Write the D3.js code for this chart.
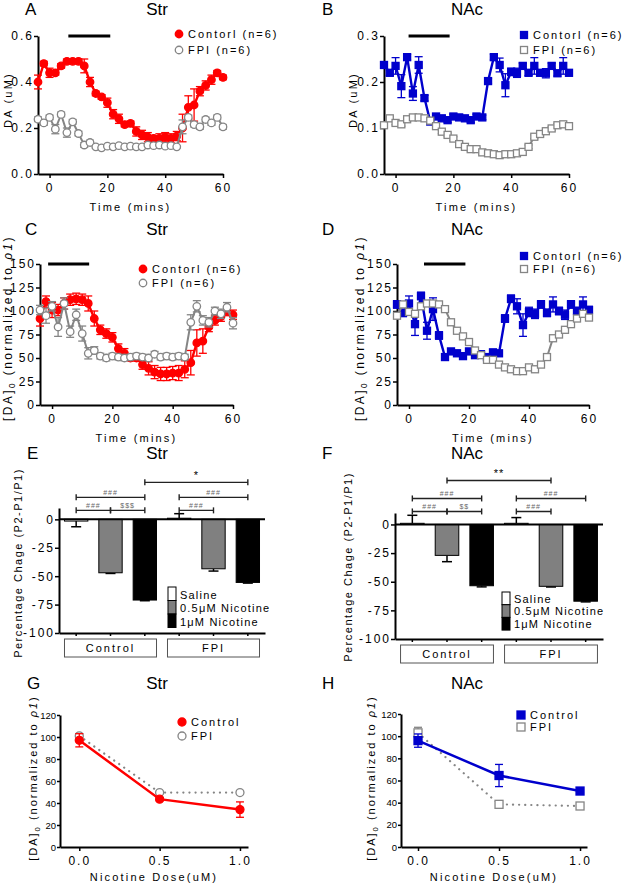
<!DOCTYPE html>
<html>
<head>
<meta charset="utf-8">
<script src="https://cdn.jsdelivr.net/npm/d3@7"></script>
<style>
body { margin: 0; background: #fff; }
svg { display: block; font-family: "Liberation Sans", Arial, sans-serif; }
</style>
</head>
<body>
<svg id="fig" width="625" height="883"></svg>
<script>
// ---- data ----
const times = [-4, -2, 0, 2, 4, 6, 8, 10, 12, 14, 16, 18, 20, 22, 24, 26, 28, 30, 32, 34, 36, 38, 40, 42, 44, 46, 48, 50, 52, 54, 56, 58, 60];

// A: Str raw DA (uM)
const strCtrlDA = [0.40, 0.48, 0.44, 0.44, 0.47, 0.49, 0.49, 0.49, 0.47, 0.40, 0.35, 0.335, 0.31, 0.26, 0.24, 0.215, 0.22, 0.185, 0.17, 0.16, 0.155, 0.155, 0.16, 0.155, 0.165, 0.20, 0.29, 0.30, 0.36, 0.385, 0.41, 0.44, 0.42];
const strCtrlDAErr = [0.03, 0.01, 0.02, 0.01, 0.01, 0.01, 0.01, 0.01, 0.03, 0.02, 0.01, 0.01, 0.02, 0.02, 0.02, 0.01, 0.01, 0.02, 0.02, 0.02, 0.01, 0.02, 0.02, 0.02, 0.02, 0.06, 0.05, 0.07, 0.02, 0.02, 0.02, 0.01, 0.01];
const strFpiDA = [0.238, 0.222, 0.246, 0.195, 0.259, 0.18, 0.227, 0.176, 0.126, 0.137, 0.118, 0.114, 0.121, 0.118, 0.123, 0.118, 0.121, 0.118, 0.118, 0.126, 0.123, 0.126, 0.121, 0.123, 0.118, 0.205, 0.246, 0.215, 0.205, 0.237, 0.222, 0.246, 0.205];
const strFpiDAErr = [0.01, 0.01, 0.01, 0.02, 0.01, 0.02, 0.01, 0.01, 0.01, 0.01, 0.005, 0.005, 0.005, 0.005, 0.005, 0.005, 0.005, 0.005, 0.005, 0.005, 0.005, 0.005, 0.005, 0.005, 0.005, 0.03, 0.01, 0.01, 0.01, 0.01, 0.01, 0.01, 0.01];

// B: NAc raw DA (uM)
const nacCtrlDA = [0.237, 0.220, 0.235, 0.191, 0.254, 0.175, 0.237, 0.165, 0.114, 0.125, 0.121, 0.117, 0.125, 0.123, 0.121, 0.117, 0.125, 0.123, 0.202, 0.254, 0.237, 0.193, 0.222, 0.220, 0.235, 0.220, 0.235, 0.220, 0.219, 0.235, 0.219, 0.235, 0.220];
const nacCtrlDAErr = [0.006, 0.006, 0.018, 0.025, 0.006, 0.015, 0.018, 0.006, 0.005, 0.005, 0.005, 0.005, 0.005, 0.005, 0.005, 0.005, 0.005, 0.005, 0.006, 0.006, 0.015, 0.025, 0.008, 0.01, 0.006, 0.006, 0.018, 0.006, 0.01, 0.006, 0.006, 0.018, 0.006];
const nacFpiDA = [0.106, 0.121, 0.111, 0.108, 0.119, 0.123, 0.123, 0.121, 0.116, 0.104, 0.092, 0.085, 0.077, 0.065, 0.059, 0.054, 0.054, 0.047, 0.045, 0.043, 0.041, 0.043, 0.043, 0.045, 0.048, 0.059, 0.081, 0.087, 0.093, 0.099, 0.106, 0.108, 0.104];
const nacFpiDAErr = [0.004, 0.004, 0.004, 0.004, 0.004, 0.004, 0.004, 0.004, 0.004, 0.004, 0.004, 0.004, 0.004, 0.004, 0.004, 0.004, 0.004, 0.004, 0.004, 0.004, 0.004, 0.004, 0.004, 0.004, 0.004, 0.004, 0.004, 0.004, 0.004, 0.004, 0.004, 0.004, 0.004];

// C: Str normalized
const strCtrlNorm = [92, 110, 101, 101, 108, 112, 113, 112, 108, 92, 80, 76, 72, 60, 55, 50, 50, 43, 39, 35, 33, 33, 34, 34, 38, 45, 66, 68, 83, 90, 94, 100, 96];
const strCtrlNormErr = [8, 6, 8, 6, 6, 6, 6, 6, 8, 8, 5, 5, 5, 5, 5, 3, 3, 5, 7, 7, 7, 7, 7, 8, 9, 13, 14, 13, 5, 5, 5, 5, 5];
const strFpiNorm = [101, 95, 105, 83, 108, 78, 96, 76, 55, 58, 52, 50, 52, 51, 50, 51, 52, 51, 50, 54, 51, 52, 51, 52, 51, 88, 105, 90, 88, 100, 97, 104, 87];
const strFpiNormErr = [5, 8, 5, 10, 6, 6, 6, 8, 6, 4, 3, 3, 3, 3, 3, 3, 3, 3, 3, 3, 3, 3, 3, 3, 3, 8, 6, 5, 5, 4, 5, 5, 6];

// D: NAc normalized
const nacCtrlNorm = [107, 98, 108, 86, 116, 79, 102, 74, 51, 57, 55, 52, 57, 53, 54, 51, 56, 55, 92, 113, 105, 85, 99, 97, 107, 98, 107, 100, 96, 107, 100, 107, 101];
const nacCtrlNormErr = [4, 4, 8, 12, 4, 9, 12, 4, 3, 3, 3, 3, 3, 3, 3, 3, 3, 3, 4, 4, 8, 12, 5, 5, 4, 4, 8, 4, 5, 4, 4, 8, 4];
const nacFpiNorm = [95, 107, 99, 97, 105, 108, 108, 107, 102, 88, 79, 73, 67, 58, 53, 48, 48, 43, 40, 38, 36, 36, 40, 38, 43, 51, 71, 75, 80, 86, 92, 97, 93];
const nacFpiNormErr = [3, 3, 3, 3, 3, 3, 3, 3, 3, 3, 3, 3, 3, 3, 3, 3, 3, 3, 3, 3, 3, 3, 3, 3, 3, 3, 3, 3, 3, 3, 3, 3, 3];

// nicotine application windows (mins)
const drugStrDA = [6.5, 21];
const drugNacDA = [4.5, 18.7];
const drugStrNorm = [-1.3, 12.3];
const drugNacNorm = [5, 18.8];

// E/F: percentage change
const groups = ["Control", "FPI"];
const doses = ["Saline", "0.5\u03bcM Nicotine", "1\u03bcM Nicotine"];
const pctTicks = [0, -25, -50, -75, -100];
const strPct = [-1.5, -47, -71, 1, -43.5, -55.5];
const strPctErr = [5, 0.6, 0.6, 4, 2, 0.6];
const nacPct = [1, -27, -53.5, 1, -54, -67];
const nacPctErr = [7, 5.5, 1, 5, 0.6, 0.6];
const strSigPairs = [[0, 1], [1, 2], [0, 2], [3, 4], [3, 5], [2, 5]];
const strSigText = ["###", "$$$", "###", "###", "###", "*"];
const strSigTier = [0, 0, 1, 0, 1, 2];
const nacSigPairs = [[0, 1], [1, 2], [0, 2], [3, 4], [3, 5], [1, 4]];
const nacSigText = ["###", "$$", "###", "###", "###", "**"];
const nacSigTier = [0, 0, 1, 0, 1, 2];

// G/H: dose response
const doseLevels = [0, 0.5, 1.0];
const doseTicksY = [0, 20, 40, 60, 80, 100, 120];
const strDoseCtrl = [97, 43.5, 34];
const strDoseCtrlErr = [6, 1.5, 7];
const strDoseFpi = [101, 49.5, 49.5];
const strDoseFpiErr = [2, 1, 1];
const nacDoseCtrl = [96, 64.5, 50.5];
const nacDoseCtrlErr = [6, 10, 1.5];
const nacDoseFpi = [103, 38.5, 37];
const nacDoseFpiErr = [5, 1, 1];

// ---- drawing ----
const FONT = '"Liberation Sans", Arial, sans-serif';
const RED = "#ff0000", BLUE = "#0000cc", GRAY = "#858585";
const svg = d3.select("#fig");

function styleAxis(sel) {
    sel.attr("font-family", FONT).attr("font-size", 12);
    sel.select(".domain").attr("stroke-width", 2);
    sel.selectAll(".tick line").attr("stroke-width", 1.5);
    sel.selectAll(".tick text").attr("fill", "#000").style("letter-spacing", "2px");
}

function spaced(g, txt, x, y, size, ls) {
    return g.append("text").attr("x", x).attr("y", y)
        .attr("font-size", size).style("letter-spacing", ls + "px").text(txt);
}

function heading(letter, title, lx, tx, y) {
    svg.append("text").attr("x", lx).attr("y", y).attr("font-size", 17).text(letter);
    svg.append("text").attr("x", tx).attr("y", y).attr("font-size", 17)
        .attr("text-anchor", "middle").text(title);
}

function normLabel(g, x, y, size, ls) {
    const t = g.append("text")
        .attr("transform", "translate(" + x + "," + y + ") rotate(-90)")
        .attr("text-anchor", "middle").attr("font-size", size)
        .style("letter-spacing", ls + "px");
    t.append("tspan").text("[DA]");
    t.append("tspan").attr("font-size", size * 0.7).attr("dy", 3).text("0");
    t.append("tspan").attr("dy", -3).text(" (normalized to ");
    t.append("tspan").attr("font-style", "italic").text("\u03c11");
    t.append("tspan").text(")");
}

function rotLabel(g, txt, x, y, size, ls) {
    g.append("text")
        .attr("transform", "translate(" + x + "," + y + ") rotate(-90)")
        .attr("text-anchor", "middle").attr("font-size", size)
        .style("letter-spacing", ls + "px").text(txt);
}

function addMarker(g, shape, filled, color, cx, cy, size) {
    const fill = filled ? color : "#fff";
    if (shape === "circle") {
        g.append("circle").attr("cx", cx).attr("cy", cy).attr("r", size / 2)
            .attr("fill", fill).attr("stroke", color).attr("stroke-width", 1.3);
    } else {
        g.append("rect").attr("x", cx - size / 2).attr("y", cy - size / 2)
            .attr("width", size).attr("height", size)
            .attr("fill", fill).attr("stroke", color).attr("stroke-width", 1.3);
    }
}

function drawSeries(g, x, y, xs, s) {
    const line = d3.line().x(function(d, i) { return x(xs[i]); }).y(function(d) { return y(d); });
    g.append("path").datum(s.values).attr("d", line)
        .attr("fill", "none").attr("stroke", s.color).attr("stroke-width", s.lw)
        .attr("stroke-dasharray", s.dash || null).attr("stroke-linecap", s.dash ? "round" : "butt");
    const eb = g.append("g").attr("stroke", s.color).attr("stroke-width", 1.3);
    s.values.forEach(function(v, i) {
        const cx = x(xs[i]), lo = y(v - s.err[i]), hi = y(v + s.err[i]);
        eb.append("line").attr("x1", cx).attr("x2", cx).attr("y1", lo).attr("y2", hi);
        eb.append("line").attr("x1", cx - 4).attr("x2", cx + 4).attr("y1", lo).attr("y2", lo);
        eb.append("line").attr("x1", cx - 4).attr("x2", cx + 4).attr("y1", hi).attr("y2", hi);
    });
    s.values.forEach(function(v, i) {
        addMarker(g, s.shape, s.filled, s.color, x(xs[i]), y(v), s.size);
    });
}

function drawLegend(g, items, mx, my, gap) {
    items.forEach(function(it, i) {
        addMarker(g, it.shape, it.filled, it.color, mx, my + i * gap, it.size);
        spaced(g, it.name, mx + 9, my + i * gap + 4, 11, 2);
    });
}

function drawTime(p) {
    const g = svg.append("g");
    const x = d3.scaleLinear().domain([-4, 60]).range([p.left, p.right]);
    const y = d3.scaleLinear().domain([0, p.ymax]).range([p.bottom, p.top]);

    g.append("g").attr("transform", "translate(0," + p.bottom + ")")
        .call(d3.axisBottom(x).tickValues([0, 20, 40, 60]).tickSize(4).tickSizeOuter(0).tickPadding(5))
        .call(styleAxis);
    g.append("g").attr("transform", "translate(" + p.left + ",0)")
        .call(d3.axisLeft(y).tickValues(p.yticks).tickFormat(p.fmt).tickSize(4).tickSizeOuter(0).tickPadding(0))
        .call(styleAxis);

    // nicotine bar
    g.append("line").attr("x1", x(p.drug[0])).attr("x2", x(p.drug[1]))
        .attr("y1", y(p.ymax)).attr("y2", y(p.ymax))
        .attr("stroke", "#000").attr("stroke-width", 3);

    p.series.forEach(function(s) { drawSeries(g, x, y, times, s); });

    drawLegend(g, p.series, p.legX, p.legY, p.legGap);

    spaced(g, "Time (mins)", (p.left + p.right) / 2, p.bottom + 37, 11, 2.2).attr("text-anchor", "middle");
    if (p.norm) normLabel(g, p.ylabX, p.ylabY, 12, 2.4);
    else rotLabel(g, "DA (uM)", p.ylabX, p.ylabY, 11, 2.2);
}

function drawBars(p) {
    const g = svg.append("g");
    const keys = d3.cross(groups, doses).map(function(d) { return d.join(" "); });
    const x = d3.scaleBand().domain(keys).range([p.left, p.right]).paddingInner(0.32).paddingOuter(0.16);
    const y = d3.scaleLinear().domain([-100, 10]).range([p.bottom, p.top]);
    const bw = x.bandwidth();
    const cx = function(i) { return x(keys[i]) + bw / 2; };
    const fills = ["#fff", "#808080", "#000"];

    g.append("g").attr("transform", "translate(" + p.left + ",0)")
        .call(d3.axisLeft(y).tickValues(pctTicks).tickFormat(function(d) { return String(d); })
            .tickSize(4).tickSizeOuter(0).tickPadding(0))
        .call(styleAxis);
    g.append("g").attr("transform", "translate(0," + p.bottom + ")")
        .call(d3.axisBottom(x).tickSize(3).tickSizeOuter(0).tickFormat(""))
        .call(styleAxis);

    p.means.forEach(function(m, i) {
        const e = p.errs[i];
        const tip = m < 0 ? m - e : m + e;
        g.append("line").attr("x1", cx(i)).attr("x2", cx(i)).attr("y1", y(m)).attr("y2", y(tip))
            .attr("stroke", "#000").attr("stroke-width", 1.5);
        g.append("line").attr("x1", cx(i) - 5).attr("x2", cx(i) + 5).attr("y1", y(tip)).attr("y2", y(tip))
            .attr("stroke", "#000").attr("stroke-width", 1.5);
        g.append("rect").attr("x", x(keys[i])).attr("width", bw)
            .attr("y", y(Math.max(0, m))).attr("height", Math.abs(y(m) - y(0)))
            .attr("fill", fills[i % 3]).attr("stroke", "#000").attr("stroke-width", 1);
    });

    g.append("line").attr("x1", p.left).attr("x2", p.right).attr("y1", y(0)).attr("y2", y(0))
        .attr("stroke", "#000").attr("stroke-width", 2);

    // significance brackets
    p.pairs.forEach(function(pr, i) {
        const by = y(0) - p.tierOff[p.tiers[i]];
        const x1 = cx(pr[0]), x2 = cx(pr[1]);
        const b = g.append("g").attr("stroke", "#222").attr("stroke-width", 1.4);
        b.append("line").attr("x1", x1).attr("x2", x2).attr("y1", by).attr("y2", by);
        b.append("line").attr("x1", x1).attr("x2", x1).attr("y1", by - 3).attr("y2", by + 3);
        b.append("line").attr("x1", x2).attr("x2", x2).attr("y1", by - 3).attr("y2", by + 3);
        const star = p.labels[i].indexOf("*") >= 0;
        g.append("text").attr("x", (x1 + x2) / 2).attr("y", star ? by - 3 : by - 2)
            .attr("text-anchor", "middle").attr("font-size", star ? 11 : 7)
            .attr("fill", star ? "#000" : "#666").style("letter-spacing", "1px")
            .text(p.labels[i]);
    });

    // legend
    doses.forEach(function(d, i) {
        g.append("rect").attr("x", p.legX).attr("y", p.legY + i * p.legGap)
            .attr("width", 8).attr("height", p.legGap)
            .attr("fill", fills[i]).attr("stroke", "#000").attr("stroke-width", 1);
        spaced(g, d, p.legX + 12, p.legY + i * p.legGap + p.legGap - 2, 11, 1.2);
    });

    // group boxes
    groups.forEach(function(gr, j) {
        const a = x(keys[j * 3]), b = x(keys[j * 3 + 2]) + bw;
        g.append("rect").attr("x", a).attr("y", p.bottom + 6).attr("width", b - a).attr("height", 18)
            .attr("fill", "none").attr("stroke", "#555").attr("stroke-width", 1);
        spaced(g, gr, (a + b) / 2, p.bottom + 19, 11, 2).attr("text-anchor", "middle");
    });

    rotLabel(g, "Percentage Chage (P2-P1/P1)", p.ylabX, p.ylabY, 11, 1.5);
}

function drawDose(p) {
    const g = svg.append("g");
    const x = d3.scaleLinear().domain(p.xdom).range([p.left, p.right]);
    const y = d3.scaleLinear().domain([0, 120]).range([p.bottom, p.top]);

    g.append("g").attr("transform", "translate(0," + p.bottom + ")")
        .call(d3.axisBottom(x).tickValues(doseLevels).tickFormat(d3.format(".1f")).tickSize(4).tickSizeOuter(0).tickPadding(5))
        .call(styleAxis);
    g.append("g").attr("transform", "translate(" + p.left + ",0)")
        .call(d3.axisLeft(y).tickValues(doseTicksY).tickSize(3).tickSizeOuter(0).tickPadding(1))
        .call(styleAxis)
        .call(function(a) { a.selectAll(".tick text").attr("font-size", 9.5).style("letter-spacing", "0px"); });

    p.series.slice().reverse().forEach(function(s) { drawSeries(g, x, y, doseLevels, s); });
    drawLegend(g, p.series, p.legX, p.legY, p.legGap);

    spaced(g, "Nicotine Dose(uM)", (p.left + p.right) / 2, p.bottom + 34, 11, 2.2).attr("text-anchor", "middle");
    normLabel(g, p.ylabX, p.ylabY, 11, 2);
}

// ---- panels ----
heading("A", "Str", 25, 157, 15);
heading("B", "NAc", 322, 467, 15);
heading("C", "Str", 25, 157, 235);
heading("D", "NAc", 322, 467, 235);
heading("E", "Str", 27, 157, 459);
heading("F", "NAc", 322, 467, 459);
heading("G", "Str", 27, 157, 689);
heading("H", "NAc", 322, 467, 689);

const fmt1 = d3.format(".1f");

drawTime({
    left: 38, right: 223, top: 36, bottom: 174, ymax: 0.6, yticks: [0, 0.2, 0.4, 0.6], fmt: fmt1,
    drug: drugStrDA, legX: 179, legY: 34, legGap: 16, ylabX: 12, ylabY: 100,
    series: [
        { name: "Contorl (n=6)", values: strCtrlDA, err: strCtrlDAErr, color: RED, lw: 2.4, shape: "circle", filled: true, size: 7.5 },
        { name: "FPI (n=6)", values: strFpiDA, err: strFpiDAErr, color: GRAY, lw: 2, shape: "circle", filled: false, size: 7.5 }
    ]
});

drawTime({
    left: 384, right: 569, top: 36, bottom: 174, ymax: 0.3, yticks: [0, 0.1, 0.2, 0.3], fmt: fmt1,
    drug: drugNacDA, legX: 524, legY: 35, legGap: 15, ylabX: 357, ylabY: 100,
    series: [
        { name: "Contorl (n=6)", values: nacCtrlDA, err: nacCtrlDAErr, color: BLUE, lw: 2.4, shape: "square", filled: true, size: 7 },
        { name: "FPI (n=6)", values: nacFpiDA, err: nacFpiDAErr, color: GRAY, lw: 2, shape: "square", filled: false, size: 7 }
    ]
});

drawTime({
    left: 40, right: 233, top: 264, bottom: 405, ymax: 150, yticks: [0, 25, 50, 75, 100, 125, 150], fmt: d3.format("d"),
    drug: drugStrNorm, legX: 143, legY: 269, legGap: 14, ylabX: 12, ylabY: 328, norm: true,
    series: [
        { name: "Contorl (n=6)", values: strCtrlNorm, err: strCtrlNormErr, color: RED, lw: 2.4, shape: "circle", filled: true, size: 7.5 },
        { name: "FPI (n=6)", values: strFpiNorm, err: strFpiNormErr, color: GRAY, lw: 2, shape: "circle", filled: false, size: 7.5 }
    ]
});

drawTime({
    left: 397, right: 589, top: 264, bottom: 405, ymax: 150, yticks: [0, 25, 50, 75, 100, 125, 150], fmt: d3.format("d"),
    drug: drugNacNorm, legX: 524, legY: 256, legGap: 13, ylabX: 364, ylabY: 328, norm: true,
    series: [
        { name: "Contorl (n=6)", values: nacCtrlNorm, err: nacCtrlNormErr, color: BLUE, lw: 2.4, shape: "square", filled: true, size: 7 },
        { name: "FPI (n=6)", values: nacFpiNorm, err: nacFpiNormErr, color: GRAY, lw: 2, shape: "square", filled: false, size: 7 }
    ]
});

drawBars({
    left: 59, right: 265, top: 508, bottom: 633, means: strPct, errs: strPctErr,
    pairs: strSigPairs, labels: strSigText, tiers: strSigTier, tierOff: [9, 22, 37],
    legX: 168, legY: 587, legGap: 13.5, ylabX: 22, ylabY: 563
});

drawBars({
    left: 395, right: 603, top: 513, bottom: 639, means: nacPct, errs: nacPctErr,
    pairs: nacSigPairs, labels: nacSigText, tiers: nacSigTier, tierOff: [13, 26, 44],
    legX: 502, legY: 592, legGap: 12.7, ylabX: 352, ylabY: 567
});

drawDose({
    left: 60, right: 248, top: 715, bottom: 847, xdom: [-0.12, 1.05],
    legX: 182, legY: 722, legGap: 14, ylabX: 37, ylabY: 778,
    series: [
        { name: "Control", values: strDoseCtrl, err: strDoseCtrlErr, color: RED, lw: 2.5, shape: "circle", filled: true, size: 8 },
        { name: "FPI", values: strDoseFpi, err: strDoseFpiErr, color: GRAY, lw: 2.2, dash: "0.1,6", shape: "circle", filled: false, size: 8 }
    ]
});

drawDose({
    left: 401, right: 587, top: 714, bottom: 847, xdom: [-0.105, 1.043],
    legX: 521, legY: 715, legGap: 12, ylabX: 375, ylabY: 778,
    series: [
        { name: "Control", values: nacDoseCtrl, err: nacDoseCtrlErr, color: BLUE, lw: 2.5, shape: "square", filled: true, size: 8 },
        { name: "FPI", values: nacDoseFpi, err: nacDoseFpiErr, color: GRAY, lw: 2.2, dash: "0.1,6", shape: "square", filled: false, size: 8 }
    ]
});
</script>
</body>
</html>
